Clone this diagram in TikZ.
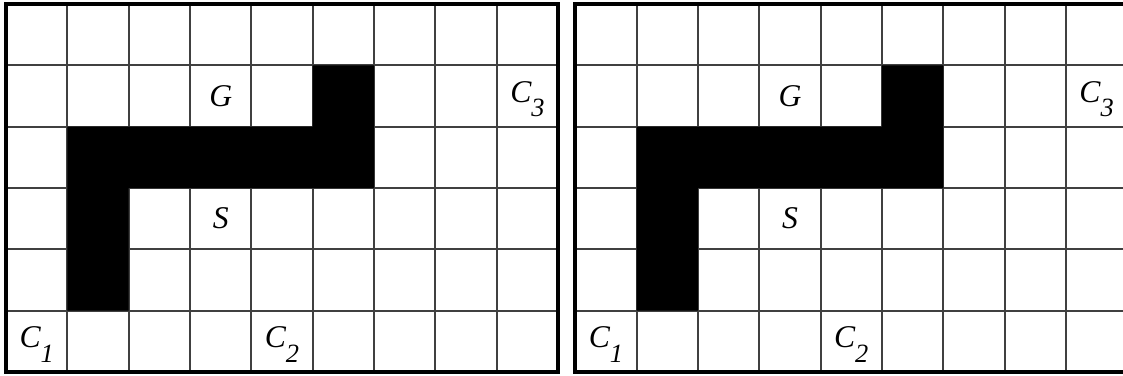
\documentclass[tikz,border=0pt]{standalone}
\usepackage{fontspec}
\setmainfont{Liberation Serif}
\usepackage{tikz}
\tikzset{
  cell/.style={draw=black!75,line width=1.1pt},
  frame/.style={draw=black,line width=2.3pt},
  wall/.style={fill=black},
  lbl/.style={font=\fontsize{18}{20}\selectfont\itshape,inner sep=0pt},
}
\newcommand\idx[1]{\raisebox{-.45em}{\fontsize{15}{15}\selectfont #1}}

\begin{document}
\begin{tikzpicture}[scale=1.2267]
  \useasboundingbox (-0.098,-0.049) rectangle (18.21,6.065);
  \foreach \dx/\p in {0/a,9.28/b}{
    \begin{scope}[shift={(\dx,0)}]
      \draw[cell] (0,0) grid (9,6);
      \fill[wall] (1,1)--(2,1)--(2,3)--(6,3)--(6,5)--(5,5)--(5,4)--(1,4)--cycle;
      \draw[frame] (0,0) rectangle (9,6);
      \node[lbl] (G\p) at (3.5,4.5){G};
      \node[lbl] (S\p) at (3.5,2.5){S};
      \node[lbl] (C3\p) at (8.5,4.45){C\idx{3}};
      \node[lbl] (C1\p) at (0.5,0.45){C\idx{1}};
      \node[lbl] (C2\p) at (4.5,0.45){C\idx{2}};
    \end{scope}
  }
\end{tikzpicture}
\end{document}
